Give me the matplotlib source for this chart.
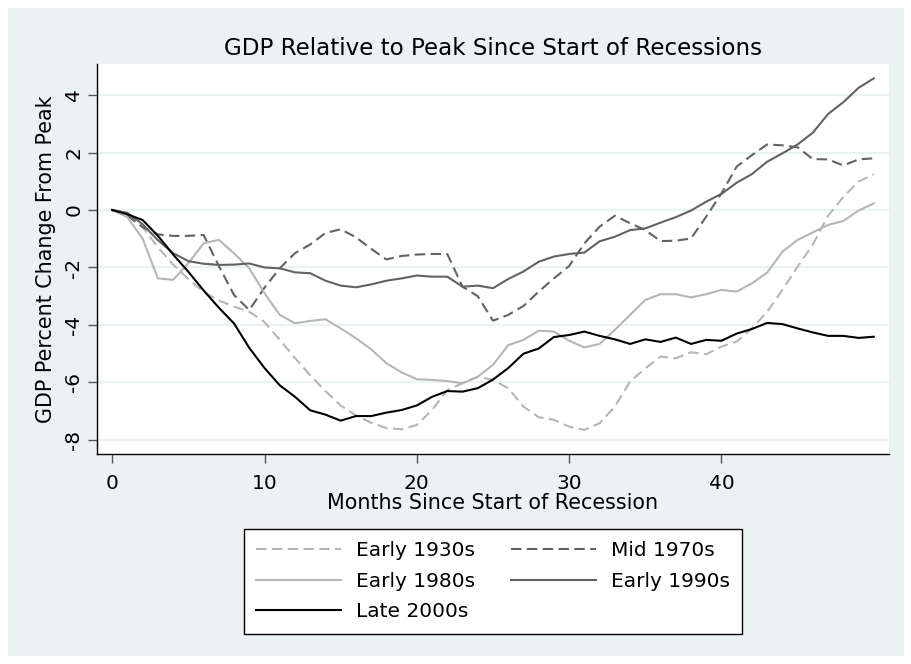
import numpy as np
import matplotlib
matplotlib.use('Agg')
import matplotlib.pyplot as plt
from matplotlib.patches import Rectangle

plt.rcParams['font.family'] = ['DejaVu Sans']
plt.rcParams['axes.unicode_minus'] = False

# GDP percent change from pre-recession peak, by month since recession start
months = list(range(51))

early_1930s = [0, -0.15, -0.6, -1.3, -1.9, -2.4, -2.85, -3.15, -3.36, -3.54,
               -3.9, -4.52, -5.15, -5.75, -6.3, -6.8, -7.15, -7.4, -7.59, -7.63,
               -7.48, -6.96, -6.26, -6.03, -5.8, -5.91, -6.2, -6.84, -7.21, -7.3,
               -7.54, -7.65, -7.42, -6.84, -5.97, -5.51, -5.1, -5.16, -4.95, -5.02,
               -4.75, -4.58, -4.12, -3.54, -2.78, -1.97, -1.2, -0.2, 0.45, 0.99,
               1.24]

mid_1970s = [0, -0.2, -0.6, -0.85, -0.9, -0.9, -0.87, -1.95, -2.96, -3.48,
             -2.7, -2.03, -1.5, -1.2, -0.8, -0.67, -0.95, -1.35, -1.72, -1.6,
             -1.55, -1.53, -1.53, -2.67, -3.0, -3.85, -3.65, -3.34, -2.84, -2.38,
             -1.95, -1.16, -0.58, -0.2, -0.46, -0.7, -1.08, -1.07, -0.99, -0.23,
             0.58, 1.51, 1.91, 2.28, 2.25, 2.18, 1.77, 1.76, 1.55, 1.76,
             1.8]

early_1980s = [0, -0.25, -1.0, -2.38, -2.43, -1.85, -1.16, -1.04, -1.51, -2.03,
               -2.9, -3.65, -3.94, -3.86, -3.8, -4.12, -4.46, -4.85, -5.33, -5.65,
               -5.89, -5.91, -5.95, -6.03, -5.8, -5.39, -4.7, -4.52, -4.2, -4.23,
               -4.55, -4.78, -4.66, -4.17, -3.65, -3.13, -2.93, -2.93, -3.04, -2.93,
               -2.78, -2.84, -2.55, -2.18, -1.45, -1.04, -0.78, -0.52, -0.38, -0.02,
               0.23]

early_1990s = [0, -0.1, -0.5, -1.05, -1.5, -1.78, -1.87, -1.91, -1.9, -1.86,
               -2.0, -2.03, -2.17, -2.2, -2.46, -2.63, -2.69, -2.59, -2.46, -2.38,
               -2.28, -2.32, -2.32, -2.67, -2.63, -2.72, -2.4, -2.14, -1.8, -1.62,
               -1.53, -1.48, -1.09, -0.93, -0.7, -0.64, -0.44, -0.25, -0.02, 0.29,
               0.56, 0.95, 1.25, 1.68, 1.97, 2.28, 2.69, 3.34, 3.75, 4.25,
               4.58]

late_2000s = [0, -0.15, -0.35, -0.9, -1.55, -2.15, -2.8, -3.4, -3.95, -4.8,
              -5.5, -6.1, -6.5, -6.97, -7.12, -7.33, -7.17, -7.17, -7.05, -6.96,
              -6.8, -6.5, -6.3, -6.32, -6.2, -5.9, -5.5, -5.0, -4.82, -4.42,
              -4.35, -4.23, -4.38, -4.5, -4.66, -4.5, -4.59, -4.44, -4.66, -4.52,
              -4.55, -4.3, -4.14, -3.93, -3.97, -4.12, -4.26, -4.38, -4.38, -4.45,
              -4.41]

x_ticks = [0, 10, 20, 30, 40]
y_ticks = [-8, -6, -4, -2, 0, 2, 4]

bg = '#eaf2f3'
light = '#b6b6b6'
dark = '#626262'

W, H = 912, 664
fig = plt.figure(figsize=(W / 100, H / 100), dpi=100)
fig.patch.set_facecolor('white')
fig.patches.append(Rectangle((8 / W, 8 / H), (W - 16) / W, (H - 16) / H,
                             transform=fig.transFigure, facecolor=bg,
                             edgecolor='none', zorder=-10))

ax = fig.add_axes([97 / W, (H - 454) / H, (889 - 97) / W, (454 - 64) / H])
ax.set_facecolor('white')

dash = (0, (5, 2.6))
l30, = ax.plot(months, early_1930s, color=light, lw=1.5, ls=dash, label='Early 1930s')
l70, = ax.plot(months, mid_1970s, color=dark, lw=1.5, ls=dash, label='Mid 1970s')
l80, = ax.plot(months, early_1980s, color=light, lw=1.5, label='Early 1980s')
l90, = ax.plot(months, early_1990s, color=dark, lw=1.5, label='Early 1990s')
l00, = ax.plot(months, late_2000s, color='black', lw=1.5, label='Late 2000s')

ax.set_xlim(-1, 51)
ax.set_ylim(-8.49, 5.08)
ax.set_xticks(x_ticks)
ax.set_yticks(y_ticks)
ax.yaxis.grid(True, color=bg, lw=1.6)
ax.set_axisbelow(True)

for side in ['top', 'right']:
    ax.spines[side].set_visible(False)
for side in ['left', 'bottom']:
    ax.spines[side].set_color('black')
    ax.spines[side].set_linewidth(1.0)

ax.tick_params(axis='x', length=6.4, width=1, color='#555555', pad=8, labelsize=14.5)
ax.tick_params(axis='y', length=6.4, width=1, color='#555555', pad=3.5, labelsize=14.5,
               labelrotation=90)
for lab in ax.get_yticklabels():
    lab.set_va('center')

ax.set_xlabel('Months Since Start of Recession', fontsize=14.9)
ax.xaxis.set_label_coords(0.5, -0.101)
ax.set_ylabel('GDP Percent Change From Peak', fontsize=14.9)
ax.yaxis.set_label_coords(-0.0514, 0.5)

fig.text(493 / W, 1 - 55 / H, 'GDP Relative to Peak Since Start of Recessions',
         ha='center', va='baseline', fontsize=16.6)

leg = fig.legend([l30, l80, l00, l70, l90],
                 ['Early 1930s', 'Early 1980s', 'Late 2000s', 'Mid 1970s', 'Early 1990s'],
                 ncol=2, loc='upper center', bbox_to_anchor=(493 / W, 1 - 529 / H),
                 fontsize=14.5, frameon=True, fancybox=False, framealpha=1,
                 borderaxespad=0, handlelength=4.23, handletextpad=0.75,
                 columnspacing=1.74, labelspacing=0.57, borderpad=0.62)
leg.get_frame().set_edgecolor('black')
leg.get_frame().set_linewidth(1.0)
leg.get_frame().set_facecolor('white')

fig.savefig('out.png', dpi=100, facecolor=fig.get_facecolor())
